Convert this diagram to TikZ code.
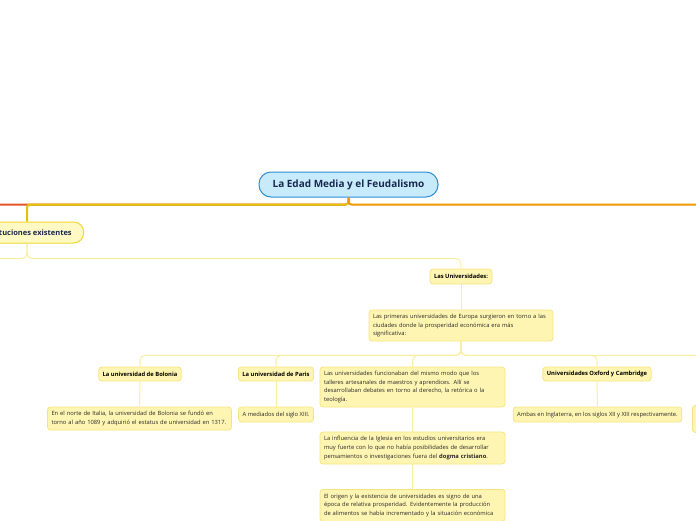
\documentclass[tikz,border=0pt]{standalone}
\usepackage{fontspec}
\setmainfont{Open Sans}
\usetikzlibrary{positioning}
\definecolor{rootfill}{RGB}{200,235,251}
\definecolor{rootline}{RGB}{42,143,214}
\definecolor{rootink}{RGB}{24,40,78}
\definecolor{instfill}{RGB}{255,249,196}
\definecolor{instline}{RGB}{240,216,52}
\definecolor{boxfill}{RGB}{255,245,178}
\definecolor{boxline}{RGB}{247,228,128}
\definecolor{linelight}{RGB}{250,238,160}
\definecolor{lineyellow}{RGB}{226,196,0}
\definecolor{lineorange}{RGB}{241,152,0}
\definecolor{linered}{RGB}{228,82,40}
\definecolor{ink}{RGB}{40,40,40}
\tikzset{
    rootnode/.style = {rectangle, rounded corners=12pt, line width=1pt, draw=rootline, fill=rootfill,
        minimum width=179pt, minimum height=25pt, text=rootink, font=\fontsize{10}{11}\bfseries\selectfont},
    instnode/.style = {rectangle, rounded corners=10pt, line width=1pt, draw=instline, fill=instfill,
        minimum height=21pt, inner xsep=12pt, text=rootink, font=\fontsize{7.5}{8}\bfseries\selectfont},
    labelnode/.style = {rectangle, rounded corners=3pt, line width=0.8pt, draw=boxline, fill=boxfill,
        minimum height=14pt, inner xsep=4pt, inner ysep=0pt, text=black, font=\fontsize{5.8}{8.7}\bfseries\selectfont},
    textnode/.style = {rectangle, rounded corners=3pt, line width=0.8pt, draw=boxline, fill=boxfill,
        inner xsep=4pt, inner ysep=0pt, align=left, text=ink, font=\fontsize{5.8}{8.7}\selectfont},
    edger/.style = {line width=2pt, linered, rounded corners=3pt},
    edgey/.style = {line width=2pt, lineyellow, rounded corners=3pt},
    edgeo/.style = {line width=2pt, lineorange, rounded corners=3pt},
    edgel/.style = {line width=1pt, linelight, rounded corners=5pt}
}
\begin{document}
\begin{tikzpicture}[x=1pt,y=-1pt]
\useasboundingbox (0,0) rectangle (696,520);
\clip (0,0) rectangle (696,520);
%
\node[rootnode] at (348.5,184.5) (root) {La Edad Media y el Feudalismo};
\node[instnode] at (27,232.5) (inst) {Instituciones existentes};
\node[labelnode, minimum height=15pt] at (461,276.5) (univ) {Las Universidades:};
\node[textnode, text width=176pt, minimum height=31pt] at (461,325.5) (prim)
    {Las primeras universidades de Europa surgieron en torno a las\\ ciudades donde la prosperidad económica era más\\ significativa:};
%
\node[labelnode] at (140,374) (bolonia) {La universidad de Bolonia};
\node[labelnode] at (276,374) (paris) {La universidad de Paris};
\node[textnode, text width=177pt, minimum height=40pt] at (412.5,387) (func)
    {Las universidades funcionaban del mismo modo que los\\ talleres artesanales de maestros y aprendices. Allí se\\ desarrollaban debates en torno al derecho, la retórica o la\\ teología.};
\node[labelnode] at (597,374) (oxford) {Universidades Oxford y Cambridge};
%
\node[textnode, text width=176pt, minimum height=23pt] at (139.5,418.5) (bolt)
    {En el norte de Italia, la universidad de Bolonia se fundó en\\ torno al año 1089 y adquirió el estatus de universidad en 1317.};
\node[textnode, minimum height=15pt] at (276,414.5) (part) {A mediados del siglo XIII.};
\node[textnode, minimum height=15pt] at (597.5,414.5) (oxt) {Ambas en Inglaterra, en los siglos XII y XIII respectivamente.};
\node[textnode, anchor=north west, minimum width=60pt, minimum height=27pt] at (692,405) (offbox) {};
\node[textnode, text width=177pt, minimum height=32pt] at (412.5,448) (igl)
    {La influencia de la Iglesia en los estudios universitarios era\\ muy fuerte con lo que no había posibilidades de desarrollar\\ pensamientos o investigaciones fuera del \textbf{dogma cristiano}.};
\node[textnode, anchor=north, text width=177pt, minimum height=32pt] at (412.5,489) (orig)
    {El origen y la existencia de universidades es signo de una\\ época de relativa prosperidad. Evidentemente la producción\\ de alimentos se había incrementado y la situación económica};
%
\coordinate (offl) at (-20,240);
\coordinate (offr) at (730,240);
\coordinate (offl2) at (-20,300);
\coordinate (offr2) at (730,380);
%
\draw[edger] (root.south) -- ++(0,7) -| (offl);
\draw[edgey] (root.south) -- ++(0,7) -| (inst.north);
\draw[edgeo] (root.south) -- ++(0,7) -| (offr);
\draw[edgel] (inst.south) -- ++(0,15) -| (offl2);
\draw[edgel] (inst.south) -- ++(0,15) -| (univ.north);
\draw[edgel] (univ) -- (prim);
\draw[edgel] (prim.south) -- ++(0,14) -| (bolonia.north);
\draw[edgel] (prim.south) -- ++(0,14) -| (paris.north);
\draw[edgel] (prim.south) -- ++(0,14) -| (func.north);
\draw[edgel] (prim.south) -- ++(0,14) -| (oxford.north);
\draw[edgel] (prim.south) -- ++(0,14) -| (offr2);
\draw[edgel] (bolonia) -- (bolt);
\draw[edgel] (paris) -- (part);
\draw[edgel] (oxford) -- (oxt);
\draw[edgel] (func) -- (igl);
\draw[edgel] (igl) -- (orig);

\end{tikzpicture}
\end{document}
